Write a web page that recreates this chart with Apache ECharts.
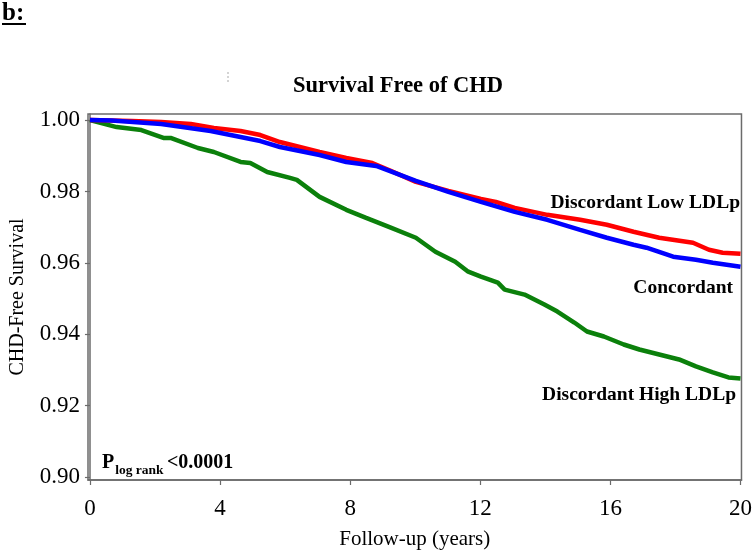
<!DOCTYPE html>
<html>
<head>
<meta charset="utf-8">
<script src="https://cdn.jsdelivr.net/npm/echarts@6/dist/echarts.min.js"></script>
<style>
html,body{margin:0;padding:0;background:#fff;}
#chart{width:755px;height:555px;}
</style>
</head>
<body>
<div id="chart"></div>
<script>
// ---- data ----
var xTicks = [0, 4, 8, 12, 16, 20];
var yTicks = [0.90, 0.92, 0.94, 0.96, 0.98, 1.00];

var lowYears = [0, 1.28, 2.19, 3.10, 3.81, 4.63, 5.24, 5.84, 6.45, 7.06, 7.88, 8.68, 9.19, 10.02, 11.02, 12.02, 12.48, 13.06, 14.06, 15.07, 15.89, 16.71, 17.50, 18.54, 19.03, 19.45, 20.0];
var lowSurv  = [1.0, 0.99972, 0.99944, 0.99888, 0.99777, 0.99693, 0.99581, 0.99385, 0.99246, 0.99106, 0.98939, 0.98799, 0.98603, 0.98268, 0.98017, 0.97793, 0.97709, 0.97542, 0.97346, 0.97207, 0.97067, 0.96872, 0.96704, 0.96564, 0.96369, 0.96285, 0.96257];

var concYears = [0, 0.67, 2.19, 3.71, 5.24, 5.84, 7.06, 7.88, 8.80, 10.02, 11.02, 12.02, 13.06, 14.06, 15.07, 15.89, 16.71, 17.11, 17.93, 18.63, 19.15, 20.0];
var concSurv  = [1.0, 0.99986, 0.99888, 0.99693, 0.99413, 0.99246, 0.99022, 0.98827, 0.98715, 0.98296, 0.97989, 0.97709, 0.97430, 0.97207, 0.96927, 0.96704, 0.96508, 0.96425, 0.96173, 0.96089, 0.96006, 0.95894];

var highYears = [0, 0.06, 0.82, 1.58, 2.28, 2.50, 3.32, 3.81, 4.63, 4.93, 5.45, 6.15, 6.36, 7.06, 7.88, 8.49, 9.19, 10.02, 10.62, 11.23, 11.63, 12.02, 12.54, 12.75, 13.36, 13.97, 14.37, 14.89, 15.28, 15.80, 16.41, 16.89, 17.50, 18.11, 18.63, 19.15, 19.63, 20.0];
var highSurv  = [1.0, 0.9997, 0.99804, 0.99721, 0.99497, 0.99497, 0.99218, 0.99106, 0.98827, 0.98799, 0.98547, 0.98380, 0.98324, 0.97849, 0.97486, 0.97263, 0.97011, 0.96704, 0.96313, 0.96034, 0.95754, 0.95615, 0.95447, 0.95251, 0.95112, 0.94832, 0.94637, 0.94330, 0.94078, 0.93939, 0.93715, 0.93575, 0.93436, 0.93296, 0.93101, 0.92933, 0.92793, 0.92765];

function pairs(xs, ys) { return xs.map(function (x, i) { return [x, ys[i]]; }); }

var SERIF = '"Liberation Serif", "Times New Roman", serif';
var AX = '#6b6b6b';

var chart = echarts.init(document.getElementById('chart'), null, {renderer: 'canvas'});
chart.setOption({
  animation: false,
  backgroundColor: '#ffffff',
  grid: {left: 86, right: 9, top: 114, bottom: 74, show: true, borderColor: AX, borderWidth: 1.5, backgroundColor: 'transparent'},
  xAxis: {
    type: 'value', min: -0.06, max: 20.03,
    name: 'Follow-up (years)', nameLocation: 'middle', nameGap: 49,
    nameTextStyle: {fontFamily: SERIF, fontSize: 21, color: '#000'},
    axisLine: {show: true, lineStyle: {color: AX, width: 1.5}},
    axisTick: {show: true, length: 5, lineStyle: {color: AX, width: 1.2}, customValues: xTicks},
    axisLabel: {fontFamily: SERIF, fontSize: 23, color: '#000', margin: 17, customValues: xTicks},
    splitLine: {show: false}
  },
  yAxis: {
    type: 'value', min: 0.8992, max: 1.0017,
    name: 'CHD-Free Survival', nameLocation: 'middle', nameGap: 60, nameRotate: 90,
    nameTextStyle: {fontFamily: SERIF, fontSize: 20, color: '#000'},
    axisLine: {show: true, lineStyle: {color: AX, width: 1.5}},
    axisTick: {show: true, length: 5, lineStyle: {color: AX, width: 1.2}, customValues: yTicks},
    axisLabel: {fontFamily: SERIF, fontSize: 23, color: '#000', margin: 8, customValues: yTicks,
      formatter: function (v) { return v.toFixed(2); }},
    splitLine: {show: false}
  },
  series: [
    {name: 'Discordant High LDLp', type: 'line', data: pairs(highYears, highSurv), showSymbol: false,
      lineStyle: {color: '#0b800b', width: 4.5}, itemStyle: {color: '#0b800b'}, z: 3},
    {name: 'Discordant Low LDLp', type: 'line', data: pairs(lowYears, lowSurv), showSymbol: false,
      lineStyle: {color: '#ff0000', width: 4.5}, itemStyle: {color: '#ff0000'}, z: 4},
    {name: 'Concordant', type: 'line', data: pairs(concYears, concSurv), showSymbol: false,
      lineStyle: {color: '#0000ff', width: 4.5}, itemStyle: {color: '#0000ff'}, z: 5}
  ],
  graphic: [
    {type: 'text', left: 2, top: 1, style: {text: 'b:', font: 'bold 25px ' + SERIF, fill: '#000'}},
    {type: 'line', shape: {x1: 2, y1: 24, x2: 26, y2: 24}, style: {stroke: '#000', lineWidth: 2}},
    {type: 'line', shape: {x1: 228, y1: 72, x2: 228, y2: 83}, style: {stroke: '#aaa', lineWidth: 1, lineDash: [2, 2]}},
    {type: 'text', x: 398, y: 86, style: {text: 'Survival Free of CHD', font: 'bold 22.5px ' + SERIF, fill: '#000', align: 'center', verticalAlign: 'middle'}},
    {type: 'text', x: 740, y: 203, style: {text: 'Discordant Low LDLp', font: 'bold 19.5px ' + SERIF, fill: '#000', align: 'right', verticalAlign: 'middle'}},
    {type: 'text', x: 733, y: 288, style: {text: 'Concordant', font: 'bold 19.5px ' + SERIF, fill: '#000', align: 'right', verticalAlign: 'middle'}},
    {type: 'text', x: 736, y: 395, style: {text: 'Discordant High LDLp', font: 'bold 19.5px ' + SERIF, fill: '#000', align: 'right', verticalAlign: 'middle'}},
    {type: 'text', x: 102, y: 463, style: {
      text: '{p|P}{s|log rank} {p|<0.0001}', verticalAlign: 'middle',
      rich: {
        p: {font: 'bold 20px ' + SERIF, fill: '#000', verticalAlign: 'bottom'},
        s: {font: 'bold 13.5px ' + SERIF, fill: '#000', verticalAlign: 'bottom', padding: [0, 0, -5, 1]}
      }
    }}
  ]
});
</script>
</body>
</html>
